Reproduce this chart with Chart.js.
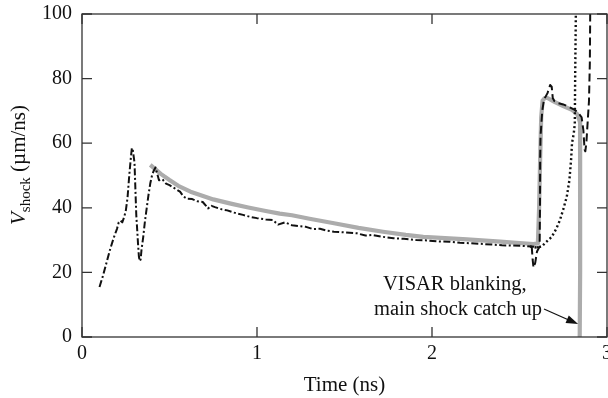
<!DOCTYPE html>
<html>
<head>
<meta charset="utf-8">
<script src="https://cdn.jsdelivr.net/npm/chart.js@4/dist/chart.umd.min.js"></script>
<style>
  html, body { margin: 0; padding: 0; background: #fff; }
  canvas { display: block; }
</style>
</head>
<body>
<canvas id="chart" width="608" height="398"></canvas>
<script>
// axis ticks
const xTicks = [0, 1, 2, 3];
const yTicks = [0, 20, 40, 60, 80, 100];

// dash-dot trace (early shock velocity)
const dashDotT = [0.10, 0.12, 0.14, 0.16, 0.18, 0.20, 0.21, 0.22, 0.23, 0.24, 0.25, 0.26, 0.27, 0.28, 0.285, 0.29,
  0.30, 0.305, 0.31, 0.32, 0.325, 0.33, 0.335, 0.34, 0.35, 0.36, 0.37, 0.38, 0.39, 0.40, 0.41, 0.42, 0.43, 0.44,
  0.46, 0.48, 0.50, 0.53, 0.56, 0.58, 0.60, 0.63, 0.66, 0.69, 0.71, 0.72, 0.74, 0.76, 0.80, 0.83, 0.87, 0.92,
  0.96, 1.00, 1.05, 1.09, 1.12, 1.16, 1.20, 1.25, 1.28, 1.32, 1.36, 1.40, 1.44, 1.50, 1.57, 1.62, 1.66, 1.72,
  1.78, 1.84, 1.91, 1.97, 2.03, 2.10, 2.16, 2.22, 2.29, 2.35, 2.40, 2.46, 2.52, 2.57, 2.60, 2.62];
const dashDotV = [15.5, 19, 23, 27, 30.5, 33.5, 35.5, 36, 35.5, 37, 39, 43, 50, 56, 58.5, 58,
  54, 46, 38, 29, 25, 23.5, 24, 27, 31, 36, 40, 44, 47.5, 50, 51.5, 52.5, 50.5, 48.5,
  48.8, 47.5, 47, 46, 45, 43.5, 42.8, 42.7, 42, 41.8, 40.5, 39.8, 40.6, 40.2, 39.5, 39.2, 38.5, 37.8,
  37.2, 36.8, 36.4, 36.2, 34.8, 35.5, 34.6, 34.3, 34.1, 33.4, 33.5, 32.9, 32.6, 32.4, 32.1, 31.4, 31.6, 31.0,
  30.6, 30.4, 30.0, 29.9, 29.6, 29.5, 29.2, 29.0, 28.8, 28.6, 28.4, 28.3, 28.2, 28.0, 27.8, 28.0];

// dashed trace (late part)
const dashedT = [2.57, 2.575, 2.58, 2.59, 2.60, 2.615, 2.617, 2.618, 2.62, 2.63, 2.64, 2.66, 2.675, 2.684, 2.69,
  2.70, 2.72, 2.75, 2.78, 2.81, 2.835, 2.855, 2.865, 2.872, 2.876, 2.882, 2.89, 2.897, 2.902, 2.904];
const dashedV = [28, 24, 21.5, 23, 26.5, 28, 40, 55, 62, 70, 73.5, 75.5, 78, 77.5, 74,
  73, 72.4, 72, 71.3, 70.5, 69.5, 68, 64, 58, 57.5, 60, 67, 73, 85, 100];

// dotted trace
const dottedT = [2.56, 2.60, 2.627, 2.65, 2.684, 2.71, 2.731, 2.75, 2.77, 2.785, 2.795, 2.80, 2.81, 2.816, 2.818, 2.822];
const dottedV = [28, 27.7, 28, 29.3, 31, 33.5, 36.2, 39.5, 43.4, 48.5, 55, 60, 63, 66, 80, 100];

// gray thick trace (main shock)
const grayT = [0.39, 0.45, 0.50, 0.55, 0.62, 0.70, 0.75, 0.85, 0.95, 1.05, 1.13, 1.20, 1.30, 1.44, 1.58, 1.72,
  1.85, 1.95, 2.05, 2.20, 2.39, 2.50, 2.58, 2.605, 2.612, 2.618, 2.624, 2.632, 2.645, 2.66, 2.70, 2.75, 2.80,
  2.83, 2.846, 2.847, 2.846, 2.844];
const grayV = [53.3, 50.5, 48.6, 46.8, 45, 43.5, 42.6, 41.3, 40.1, 39, 38.2, 37.7, 36.6, 35.2, 33.8, 32.6,
  31.6, 31, 30.7, 30.2, 29.5, 29.1, 28.8, 29, 40, 55, 68, 73.2, 74, 74, 72.8, 71.5, 70.3,
  69, 66.5, 50, 20, 0];

function pts(ts, vs) {
  return ts.map((t, i) => ({ x: t, y: vs[i] }));
}

const serif = "'Liberation Serif', 'Times New Roman', serif";

// frame, inward ticks, labels and annotation
const decorPlugin = {
  id: 'decor',
  afterDraw(chart) {
    const ctx = chart.ctx;
    const xs = chart.scales.x;
    const ys = chart.scales.y;
    const a = chart.chartArea;
    const tl = 10;
    ctx.save();
    ctx.strokeStyle = '#333';
    ctx.lineWidth = 1.3;
    ctx.strokeRect(a.left, a.top, a.right - a.left, a.bottom - a.top);

    ctx.beginPath();
    xTicks.forEach(t => {
      const px = xs.getPixelForValue(t);
      ctx.moveTo(px, a.bottom); ctx.lineTo(px, a.bottom - tl);
      ctx.moveTo(px, a.top); ctx.lineTo(px, a.top + tl);
    });
    yTicks.forEach(v => {
      const py = ys.getPixelForValue(v);
      ctx.moveTo(a.left, py); ctx.lineTo(a.left + tl, py);
      ctx.moveTo(a.right, py); ctx.lineTo(a.right - tl, py);
    });
    ctx.stroke();

    ctx.fillStyle = '#111';
    ctx.font = '20px ' + serif;
    ctx.textAlign = 'center';
    ctx.textBaseline = 'middle';
    xTicks.forEach(t => ctx.fillText(String(t), xs.getPixelForValue(t), a.bottom + 17));
    ctx.textAlign = 'right';
    yTicks.forEach(v => ctx.fillText(String(v), a.left - 10, ys.getPixelForValue(v)));

    // x title
    ctx.font = '21px ' + serif;
    ctx.textAlign = 'center';
    ctx.fillText('Time (ns)', (a.left + a.right) / 2, 385);

    // y title with subscript
    ctx.save();
    ctx.translate(25, 165);
    ctx.rotate(-Math.PI / 2);
    ctx.textBaseline = 'alphabetic';
    ctx.textAlign = 'left';
    const fMain = '21px ' + serif;
    const fIt = 'italic 21px ' + serif;
    const fSub = '15px ' + serif;
    ctx.font = fIt; const wV = ctx.measureText('V').width;
    ctx.font = fSub; const wS = ctx.measureText('shock').width;
    ctx.font = fMain; const wU = ctx.measureText(' (\u00b5m/ns)').width;
    let x0 = -(wV + wS + wU) / 2;
    ctx.font = fIt; ctx.fillText('V', x0, 0); x0 += wV;
    ctx.font = fSub; ctx.fillText('shock', x0, 5); x0 += wS;
    ctx.font = fMain; ctx.fillText(' (\u00b5m/ns)', x0, 0);
    ctx.restore();

    // annotation
    ctx.font = '20.5px ' + serif;
    ctx.textBaseline = 'alphabetic';
    ctx.textAlign = 'left';
    ctx.fillText('VISAR blanking,', 383, 290);
    ctx.textAlign = 'right';
    ctx.fillText('main shock catch up', 542, 315);

    const x1 = 544, y1 = 309;
    const x2 = xs.getPixelForValue(2.835), y2 = ys.getPixelForValue(4);
    const ang = Math.atan2(y2 - y1, x2 - x1);
    ctx.strokeStyle = '#111';
    ctx.lineWidth = 1.2;
    ctx.beginPath();
    ctx.moveTo(x1, y1);
    ctx.lineTo(x2 - 9 * Math.cos(ang), y2 - 9 * Math.sin(ang));
    ctx.stroke();
    ctx.beginPath();
    ctx.moveTo(x2, y2);
    ctx.lineTo(x2 - 12 * Math.cos(ang) + 4 * Math.sin(ang), y2 - 12 * Math.sin(ang) - 4 * Math.cos(ang));
    ctx.lineTo(x2 - 12 * Math.cos(ang) - 4 * Math.sin(ang), y2 - 12 * Math.sin(ang) + 4 * Math.cos(ang));
    ctx.closePath();
    ctx.fill();
    ctx.restore();
  }
};

new Chart(document.getElementById('chart'), {
  type: 'line',
  data: {
    datasets: [
      {
        label: 'dash-dot',
        data: pts(dashDotT, dashDotV),
        borderColor: '#111',
        borderWidth: 2,
        borderDash: [7, 2.5, 2, 2.5],
        order: 1
      },
      {
        label: 'dashed',
        data: pts(dashedT, dashedV),
        borderColor: '#111',
        borderWidth: 2,
        borderDash: [8, 4],
        order: 1
      },
      {
        label: 'dotted',
        data: pts(dottedT, dottedV),
        borderColor: '#111',
        borderWidth: 2.4,
        borderDash: [2, 2.6],
        order: 1
      },
      {
        label: 'main',
        data: pts(grayT, grayV),
        borderColor: '#acacac',
        borderWidth: 4.2,
        order: 3
      }
    ]
  },
  options: {
    responsive: false,
    animation: false,
    devicePixelRatio: 1,
    layout: { padding: { left: 82, right: 1, top: 14, bottom: 61 } },
    elements: {
      point: { radius: 0 },
      line: { tension: 0, fill: false, borderJoinStyle: 'round', borderCapStyle: 'butt' }
    },
    plugins: { legend: { display: false }, tooltip: { enabled: false } },
    scales: {
      x: { type: 'linear', min: 0, max: 3, display: false },
      y: { type: 'linear', min: 0, max: 100, display: false }
    }
  },
  plugins: [decorPlugin]
});
</script>
</body>
</html>
